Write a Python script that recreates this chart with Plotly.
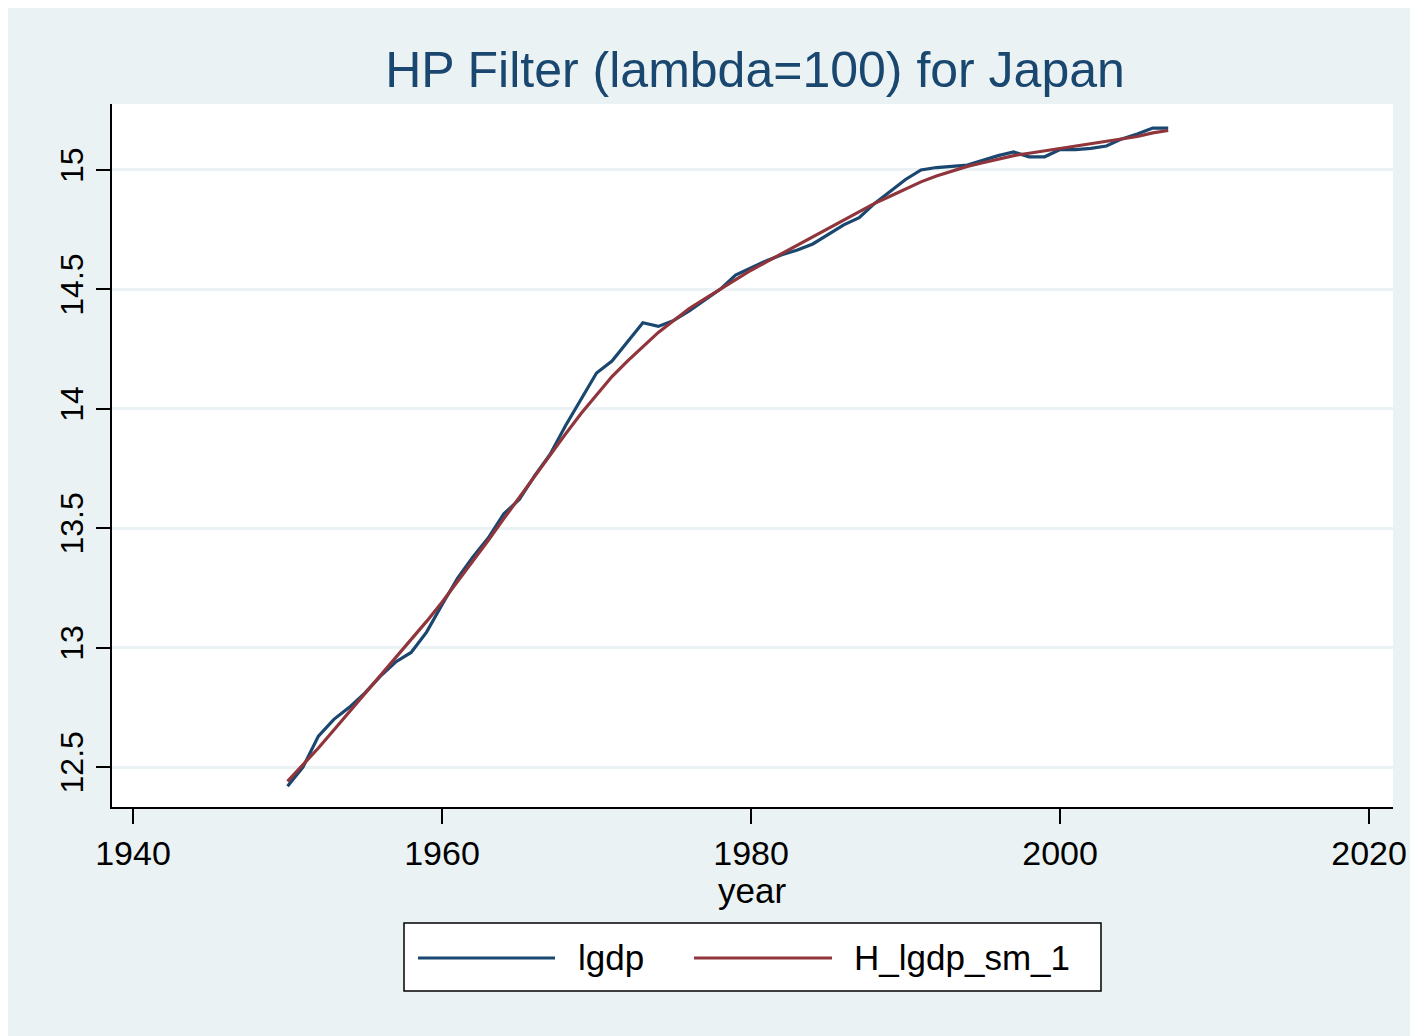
import plotly.graph_objects as go

# Japan log GDP and HP trend (lambda=100)
years = list(range(1950, 2008))
lgdp = [12.42, 12.50, 12.63, 12.70, 12.75, 12.81, 12.88, 12.94, 12.98, 13.065,
        13.18, 13.29, 13.38, 13.46, 13.56, 13.62, 13.72, 13.81, 13.93, 14.04,
        14.15, 14.20, 14.28, 14.36, 14.345, 14.37, 14.41, 14.455, 14.50, 14.56,
        14.59, 14.62, 14.645, 14.665, 14.69, 14.73, 14.77, 14.80, 14.86, 14.91,
        14.96, 15.00, 15.01, 15.015, 15.02, 15.04, 15.06, 15.075, 15.055, 15.055,
        15.085, 15.085, 15.09, 15.10, 15.13, 15.15, 15.175, 15.175]
trend = [12.44, 12.51, 12.58, 12.655, 12.73, 12.805, 12.88, 12.955, 13.03, 13.11,
         13.19, 13.275, 13.36, 13.45, 13.54, 13.63, 13.72, 13.81, 13.895, 13.98,
         14.06, 14.135, 14.20, 14.26, 14.32, 14.37, 14.42, 14.46, 14.50, 14.54,
         14.58, 14.615, 14.65, 14.685, 14.72, 14.755, 14.79, 14.825, 14.86, 14.89,
         14.92, 14.95, 14.975, 14.995, 15.015, 15.03, 15.045, 15.06, 15.07, 15.08,
         15.09, 15.10, 15.11, 15.12, 15.13, 15.14, 15.155, 15.165]

x_ticks = [1940, 1960, 1980, 2000, 2020]
y_ticks = [12.5, 13, 13.5, 14, 14.5, 15]
y_labels = ["12.5", "13", "13.5", "14", "14.5", "15"]

names = ["lgdp", "H_lgdp_sm_1"]
colors = ["#1A476F", "#90353B"]

bg = "#EAF2F3"
font = "Liberation Sans, Arial, sans-serif"

W, H = 1418, 1036
L, R, T, B = 104, 33, 96, 237
OFF = 8  # page offset of the figure


def px(x):
    return (x - OFF - L) / (W - L - R)


def py(y):
    return (H - B - (y - OFF)) / (H - T - B)


fig = go.Figure()
for name, vals, col in zip(names, [lgdp, trend], colors):
    fig.add_trace(go.Scatter(x=years, y=vals, mode="lines", name=name,
                             line=dict(color=col, width=3.2)))

# Stata-style legend box below the plot
shapes = [dict(type="rect", xref="paper", yref="paper",
               x0=px(404), x1=px(1101), y0=py(991), y1=py(923),
               fillcolor="white", line=dict(color="black", width=1.5))]
annotations = []
for (x0, x1, tx), name, col in zip([(418, 555, 576), (694, 832, 852)], names, colors):
    shapes.append(dict(type="line", xref="paper", yref="paper",
                       x0=px(x0), x1=px(x1), y0=py(958), y1=py(958),
                       line=dict(color=col, width=3)))
    annotations.append(dict(text=name, xref="paper", yref="paper", x=px(tx), y=py(957),
                            xanchor="left", yanchor="middle", showarrow=False,
                            font=dict(size=35, color="black", family=font)))

# x-axis title
annotations.append(dict(text="year", xref="paper", yref="paper", x=px(752), y=py(890),
                        xanchor="center", yanchor="middle", showarrow=False,
                        font=dict(size=35, color="black", family=font)))

fig.update_layout(
    width=W, height=H,
    paper_bgcolor=bg, plot_bgcolor="white",
    margin=dict(l=L, r=R, t=T, b=B),
    font=dict(family=font, color="black", size=34),
    title=dict(text="HP Filter (lambda=100) for Japan", x=px(755), xref="paper",
               xanchor="center", y=1 - (69 - OFF) / H, yanchor="middle",
               font=dict(size=50, color="#1A476F", family=font)),
    showlegend=False,
    shapes=shapes,
    annotations=annotations,
)
fig.update_xaxes(
    range=[1938.64, 2021.55], tickvals=x_ticks, ticks="outside", ticklen=15,
    tickwidth=1.5, tickcolor="black", showline=True, linecolor="black", linewidth=1.5,
    showgrid=False, zeroline=False,
    tickfont=dict(size=34),
)
fig.update_yaxes(
    range=[12.333, 15.276], tickvals=y_ticks, ticktext=y_labels, tickangle=-90,
    ticks="outside", ticklen=14, tickwidth=1.5, tickcolor="black",
    showline=True, linecolor="black", linewidth=1.5,
    showgrid=True, gridcolor=bg, gridwidth=3, zeroline=False,
    tickfont=dict(size=32),
)

fig.write_html("out.html")
